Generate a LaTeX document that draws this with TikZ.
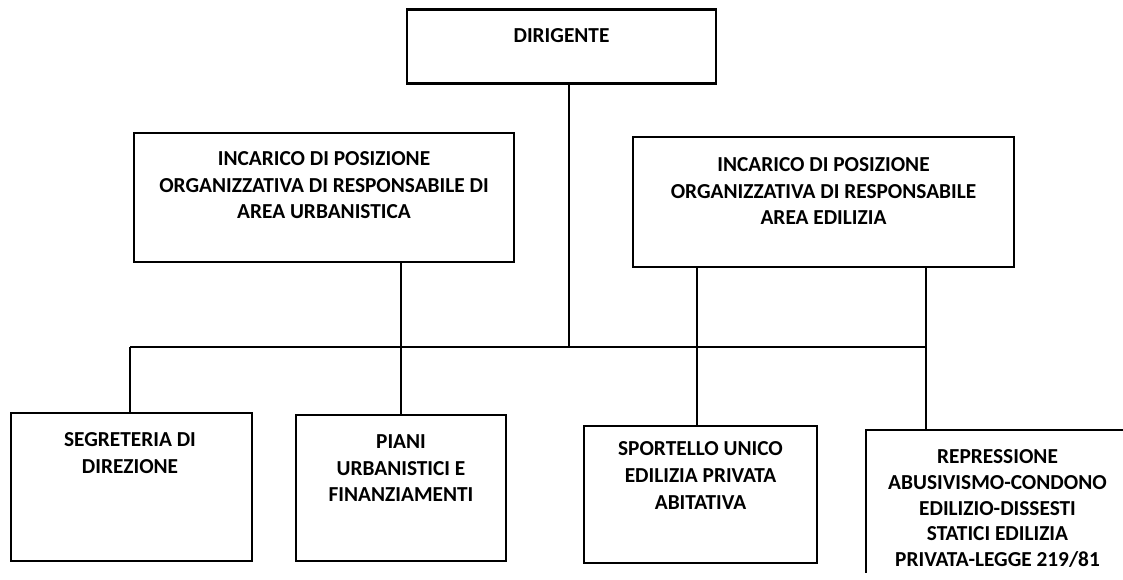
\documentclass[tikz,border=0pt]{standalone}
\usepackage{fontspec}
\setmainfont{Carlito}
\tikzset{every picture/.style={line width=1pt}}
\tikzset{orgbox/.style={draw, rectangle, inner sep=0pt, line width=1.25pt},
  orgtext/.style={anchor=north, inner sep=0pt, align=center, font=\fontsize{16}{20}\selectfont\bfseries}}

\begin{document}
\begin{tikzpicture}[x=0.75pt,y=0.75pt,yscale=-1,xscale=1]
\useasboundingbox (0,0) rectangle (1123,579);
\clip (0,0) rectangle (1123,579);

% Boxes
\node [orgbox, line width=1.7pt, minimum width=231.75pt, minimum height=55.5pt] (dir) at (561.5,46.5) {};
\node [orgbox, minimum width=285pt, minimum height=96.75pt] (urb) at (324,197.5) {};
\node [orgbox, minimum width=285.75pt, minimum height=97.5pt] (edi) at (823.5,202) {};
\node [orgbox, minimum width=180.75pt, minimum height=111pt] (seg) at (131.5,487) {};
\node [orgbox, minimum width=157.5pt, minimum height=109.5pt] (pia) at (401,488) {};
\node [orgbox, minimum width=174.75pt, minimum height=102.75pt] (spo) at (700.5,494.5) {};
\begin{scope}
\clip (0,0) rectangle (1123,572);
\node [orgbox, minimum width=205.5pt, minimum height=127.5pt] (rep) at (1003,515) {};
\end{scope}

% Text Node
\node [orgtext] (dirtxt) at (561.5,28) {DIRIGENTE};
% Text Node
\node [orgtext] (urbtxt) at (324,151) {INCARICO DI POSIZIONE\\ORGANIZZATIVA DI RESPONSABILE DI\\AREA URBANISTICA};
% Text Node
\node [orgtext] (editxt) at (823.5,157) {INCARICO DI POSIZIONE\\ORGANIZZATIVA DI RESPONSABILE\\AREA EDILIZIA};
% Text Node
\node [orgtext] (segtxt) at (130,432) {SEGRETERIA DI\\DIREZIONE};
% Text Node
\node [orgtext] (piatxt) at (401,434) {PIANI\\URBANISTICI E\\FINANZIAMENTI};
% Text Node
\node [orgtext] (spotxt) at (700.5,441) {SPORTELLO UNICO\\EDILIZIA PRIVATA\\ABITATIVA};
% Text Node
\node [orgtext, font=\fontsize{16}{19.3}\selectfont\bfseries] (reptxt) at (997.5,449) {REPRESSIONE\\ABUSIVISMO-CONDONO\\EDILIZIO-DISSESTI\\STATICI EDILIZIA\\PRIVATA-LEGGE 219/81};

% Straight Lines
\coordinate (busL) at (130,347);
\coordinate (busR) at (926,347);
\coordinate (dirJ) at (569,347);
\coordinate (spoJ) at (697,347);
\draw (busL) -- (busR) ;
\draw (dir.south -| dirJ) -- (dirJ) ;
\draw (busL) -- (busL |- seg.north) ;
\draw (urb.south -| pia.north) -- (pia.north) ;
\draw (edi.south -| spoJ) -- (spo.north -| spoJ) ;
\draw (edi.south -| busR) -- (rep.north -| busR) ;

\end{tikzpicture}
\end{document}
